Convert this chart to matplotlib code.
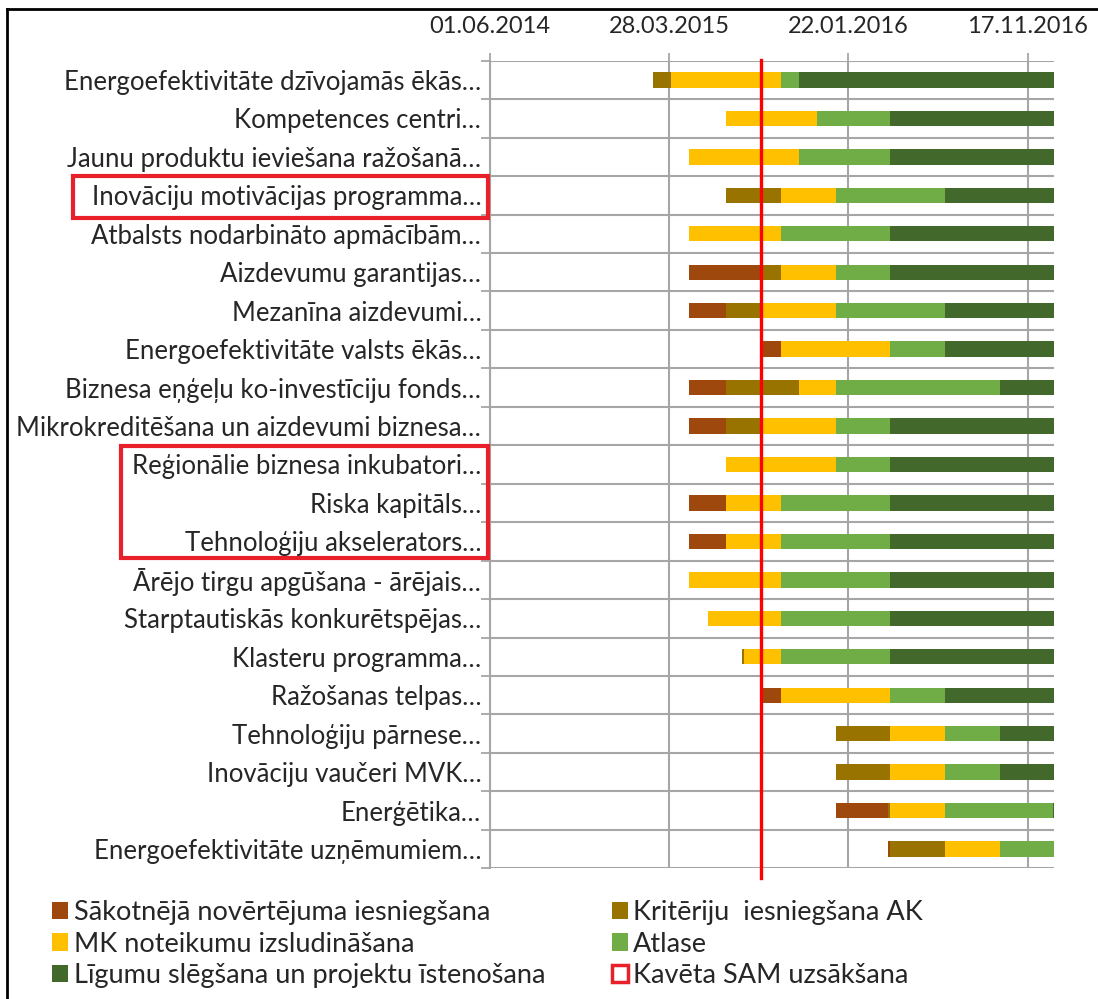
from datetime import datetime
import matplotlib
matplotlib.use("Agg")
import matplotlib.pyplot as plt
import matplotlib.dates as mdates
import matplotlib.transforms as mtransforms
from matplotlib.patches import Patch, Rectangle
from matplotlib.lines import Line2D

plt.rcParams['font.family'] = ['Lato', 'DejaVu Sans']

labels = [
    "Energoefektivitāte dzīvojamās ēkās…",
    "Kompetences centri…",
    "Jaunu produktu ieviešana ražošanā…",
    "Inovāciju motivācijas programma…",
    "Atbalsts nodarbināto apmācībām…",
    "Aizdevumu garantijas…",
    "Mezanīna aizdevumi…",
    "Energoefektivitāte valsts ēkās…",
    "Biznesa eņģeļu ko-investīciju fonds…",
    "Mikrokreditēšana un aizdevumi biznesa…",
    "Reģionālie biznesa inkubatori…",
    "Riska kapitāls…",
    "Tehnoloģiju akselerators…",
    "Ārējo tirgu apgūšana - ārējais…",
    "Starptautiskās konkurētspējas…",
    "Klasteru programma…",
    "Ražošanas telpas…",
    "Tehnoloģiju pārnese…",
    "Inovāciju vaučeri MVK…",
    "Enerģētika…",
    "Energoefektivitāte uzņēmumiem…",
]

END = "31.12.2016"

# (start, end) of each phase per programme, None where the phase is absent
sakotneja = [None, None, None, None, None,
             ("01.05.2015", "01.09.2015"), ("01.05.2015", "01.07.2015"),
             ("01.09.2015", "01.10.2015"), ("01.05.2015", "01.07.2015"),
             ("01.05.2015", "01.07.2015"), None,
             ("01.05.2015", "01.07.2015"), ("01.05.2015", "01.07.2015"),
             None, None, None, ("01.09.2015", "01.10.2015"), None, None,
             ("01.01.2016", "28.03.2016"), ("28.03.2016", "01.04.2016")]

kriteriji = [("01.03.2015", "01.04.2015"), None, None,
             ("01.07.2015", "01.10.2015"), None,
             ("01.09.2015", "01.10.2015"), ("01.07.2015", "01.09.2015"), None,
             ("01.07.2015", "01.11.2015"), ("01.07.2015", "01.09.2015"),
             None, None, None, None, None, ("28.07.2015", "01.08.2015"), None,
             ("01.01.2016", "01.04.2016"), ("01.01.2016", "01.04.2016"),
             ("28.03.2016", "01.04.2016"), ("01.04.2016", "01.07.2016")]

mk_noteikumi = [("01.04.2015", "01.10.2015"), ("01.07.2015", "01.12.2015"),
                ("01.05.2015", "01.11.2015"), ("01.10.2015", "01.01.2016"),
                ("01.05.2015", "01.10.2015"), ("01.10.2015", "01.01.2016"),
                ("01.09.2015", "01.01.2016"), ("01.10.2015", "01.04.2016"),
                ("01.11.2015", "01.01.2016"), ("01.09.2015", "01.01.2016"),
                ("01.07.2015", "01.01.2016"), ("01.07.2015", "01.10.2015"),
                ("01.07.2015", "01.10.2015"), ("01.05.2015", "01.10.2015"),
                ("01.06.2015", "01.10.2015"), ("01.08.2015", "01.10.2015"),
                ("01.10.2015", "01.04.2016"), ("01.04.2016", "01.07.2016"),
                ("01.04.2016", "01.07.2016"), ("01.04.2016", "01.07.2016"),
                ("01.07.2016", "01.10.2016")]

atlase = [("01.10.2015", "01.11.2015"), ("01.12.2015", "01.04.2016"),
          ("01.11.2015", "01.04.2016"), ("01.01.2016", "01.07.2016"),
          ("01.10.2015", "01.04.2016"), ("01.01.2016", "01.04.2016"),
          ("01.01.2016", "01.07.2016"), ("01.04.2016", "01.07.2016"),
          ("01.01.2016", "01.10.2016"), ("01.01.2016", "01.04.2016"),
          ("01.01.2016", "01.04.2016"), ("01.10.2015", "01.04.2016"),
          ("01.10.2015", "01.04.2016"), ("01.10.2015", "01.04.2016"),
          ("01.10.2015", "01.04.2016"), ("01.10.2015", "01.04.2016"),
          ("01.04.2016", "01.07.2016"), ("01.07.2016", "01.10.2016"),
          ("01.07.2016", "01.10.2016"), ("01.07.2016", "28.12.2016"),
          ("01.10.2016", END)]

ligumi = [("01.11.2015", END), ("01.04.2016", END), ("01.04.2016", END),
          ("01.07.2016", END), ("01.04.2016", END), ("01.04.2016", END),
          ("01.07.2016", END), ("01.07.2016", END), ("01.10.2016", END),
          ("01.04.2016", END), ("01.04.2016", END), ("01.04.2016", END),
          ("01.04.2016", END), ("01.04.2016", END), ("01.04.2016", END),
          ("01.04.2016", END), ("01.07.2016", END), ("01.10.2016", END),
          ("01.10.2016", END), ("28.12.2016", END), None]

phases = [
    ("Sākotnējā novērtējuma iesniegšana", sakotneja, "#9E480E"),
    ("Kritēriju  iesniegšana AK", kriteriji, "#997300"),
    ("MK noteikumu izsludināšana", mk_noteikumi, "#FFC000"),
    ("Atlase", atlase, "#70AD47"),
    ("Līgumu slēgšana un projektu īstenošana", ligumi, "#43682B"),
]

kaveta_datums = "29.08.2015"
axis_start = "01.06.2014"
tick_step_days = 300

red = "#E8202A"
grid_col = "#A6A6A6"
text_col = "#262626"


def d(s):
    return mdates.date2num(datetime.strptime(s, "%d.%m.%Y"))


fig = plt.figure(figsize=(10.98, 9.99), dpi=100)
W, H = 1098, 999
ax = fig.add_axes([489.5 / W, 1 - 868.3 / H, 564.8 / W, 807.6 / H])

n = len(labels)
for name, spans, color in phases:
    for i, span in enumerate(spans):
        if span is None:
            continue
        s, e = d(span[0]), d(span[1])
        ax.barh(i + 0.5, e - s, left=s, height=0.4, color=color, linewidth=0, zorder=3)

# delayed start marker
ax.plot([d(kaveta_datums)] * 2, [-0.02, n + 0.25], color="#FF0000", lw=2.4,
        clip_on=False, zorder=5)

ax.set_xlim(d(axis_start), d(END))
ax.set_ylim(n, 0)

xt = [d(axis_start) + k * tick_step_days for k in range(4)]
ax.set_xticks(xt)
ax.xaxis.set_major_formatter(mdates.DateFormatter("%d.%m.%Y"))
ax.xaxis.tick_top()
ax.tick_params(axis="x", which="major", direction="out", length=6, width=1.3,
               color=grid_col, labelsize=17, labelcolor=text_col, pad=11)
ax.grid(axis="x", which="major", color=grid_col, lw=1.5, zorder=1)

ax.set_yticks([i + 0.5 for i in range(n)])
ax.set_yticklabels(labels)
ax.set_yticks(range(n + 1), minor=True)
ax.tick_params(axis="y", which="major", length=0, labelsize=18.5, labelcolor=text_col, pad=6)
ax.tick_params(axis="y", which="minor", length=6.5, width=1.3, color=grid_col)
ax.grid(axis="y", which="minor", color=grid_col, lw=1.5, zorder=1)

for side in ["top", "right", "bottom"]:
    ax.spines[side].set_visible(False)
ax.spines["left"].set_color(grid_col)
ax.spines["left"].set_linewidth(1.5)

# red boxes around delayed programmes (x in figure pixels, y in rows)
trans = mtransforms.blended_transform_factory(fig.transFigure, ax.transData)
for x0, x1, y0, y1 in [(73, 487.5, 3.0, 4.1), (121, 487.5, 10.03, 12.93)]:
    ax.add_patch(Rectangle((x0 / W, y0), (x1 - x0) / W, y1 - y0, transform=trans,
                           fill=False, edgecolor=red, lw=3, clip_on=False, zorder=6))

handles = [Patch(facecolor=c, edgecolor="none", label=nm) for nm, _, c in phases]
handles.append(Patch(facecolor="white", edgecolor=red, lw=2.5, label="Kavēta SAM uzsākšana"))
order = [0, 2, 4, 1, 3, 5]
fig.legend([handles[k] for k in order], [handles[k].get_label() for k in order],
           ncol=2, loc="upper left", bbox_to_anchor=(52 / W, 1 - 900 / H),
           frameon=False, fontsize=19.5, handlelength=0.6, handleheight=0.6,
           handletextpad=0.2, columnspacing=2.45, labelspacing=0.24, borderpad=0,
           borderaxespad=0, labelcolor=text_col)

# outer frame of the screenshot
fig.add_artist(Line2D([7 / W, 7 / W], [0, 1 - 9 / H], color="black", lw=2))
fig.add_artist(Line2D([7 / W, 1], [1 - 9 / H, 1 - 9 / H], color="black", lw=2))

fig.savefig("out.png", dpi=100)
